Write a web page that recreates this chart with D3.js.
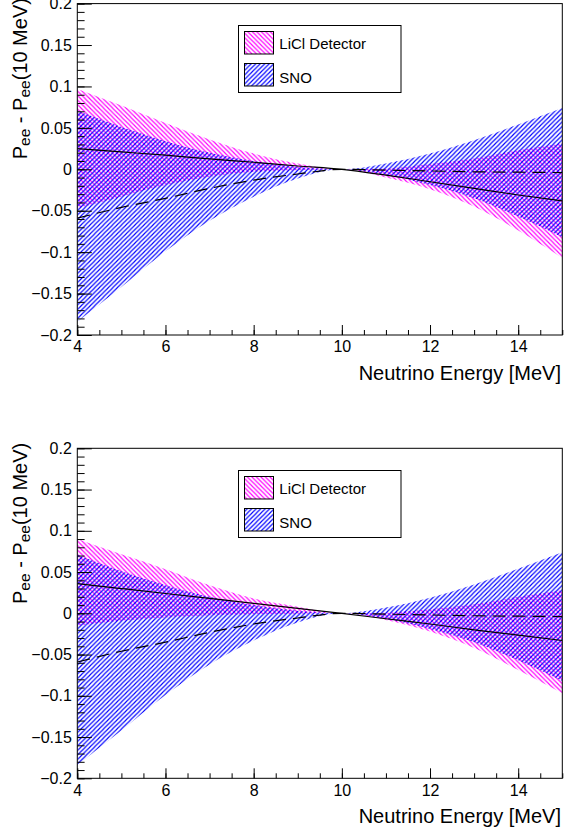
<!DOCTYPE html>
<html><head><meta charset="utf-8">
<script src="https://cdn.jsdelivr.net/npm/d3@7"></script>
<style>
body{margin:0;background:#fff}
text{font-family:"Liberation Sans",Arial,Helvetica,sans-serif;fill:#000}
</style>
</head><body>
<svg id="c" width="564" height="835" xmlns="http://www.w3.org/2000/svg"></svg>
<script>
// ---------------- data ----------------
const energy = [4, 5, 6, 7, 8, 9, 10, 11, 12, 13, 14, 15];

// SNO (same in both panels)
const snoCentral = [-0.059, -0.046, -0.035, -0.023, -0.013, -0.0057, 0, -0.001, -0.002, -0.003, -0.0035, -0.004];
const snoUpper   = [0.071, 0.051, 0.034, 0.020, 0.010, 0.003, 0, 0.007, 0.019, 0.035, 0.054, 0.074];
const snoLower   = [-0.184, -0.142, -0.099, -0.062, -0.033, -0.011, 0, -0.007, -0.019, -0.035, -0.057, -0.082];

// LiCl detector, top panel
const liclCentralTop = [0.025, 0.021, 0.017, 0.0125, 0.0085, 0.004, 0, -0.007, -0.015, -0.023, -0.031, -0.038];
const liclUpperTop   = [0.097, 0.077, 0.056, 0.036, 0.019, 0.007, 0, 0.001, 0.0064, 0.013, 0.023, 0.031];
const liclLowerTop   = [-0.047, -0.033, -0.019, -0.009, -0.003, -0.001, 0, -0.010, -0.024, -0.045, -0.074, -0.107];

// LiCl detector, bottom panel
const liclCentralBot = [0.036, 0.030, 0.024, 0.018, 0.012, 0.006, 0, -0.0066, -0.013, -0.020, -0.0265, -0.033];
const liclUpperBot   = [0.090, 0.0715, 0.0535, 0.034, 0.018, 0.008, 0, 0.0008, 0.0048, 0.011, 0.020, 0.028];
const liclLowerBot   = [-0.015, -0.009, -0.005, -0.0025, -0.001, -0.0004, 0, -0.008, -0.022, -0.042, -0.0687, -0.097];

const xTicks = [4, 6, 8, 10, 12, 14];
const xTickLabels = ["4", "6", "8", "10", "12", "14"];
const yTicks = [-0.2, -0.15, -0.1, -0.05, 0, 0.05, 0.1, 0.15, 0.2];
const yTickLabels = ["\u22120.2", "\u22120.15", "\u22120.1", "\u22120.05", "0", "0.05", "0.1", "0.15", "0.2"];
const legendLabels = ["LiCl Detector", "SNO"];
const xTitle = "Neutrino Energy [MeV]";

// ---------------- drawing ----------------
const svg = d3.select("#c");
svg.append("rect").attr("width", 564).attr("height", 835).attr("fill", "#fff");
const defs = svg.append("defs");

function hatch(id, color, dir) {
  const s = 4.5;
  const p = defs.append("pattern").attr("id", id)
    .attr("patternUnits", "userSpaceOnUse").attr("width", s).attr("height", s);
  p.append("path")
    .attr("d", dir === "/"
      ? `M-1,1 L1,-1 M0,${s} L${s},0 M${s-1},${s+1} L${s+1},${s-1}`
      : `M-1,${s-1} L1,${s+1} M0,0 L${s},${s} M${s-1},-1 L${s+1},1`)
    .attr("stroke", color).attr("stroke-width", 1.15).attr("fill", "none");
}
hatch("hLiCl", "#ff00ff", "\\");
hatch("hSNO", "#0000ff", "/");

const frameLeft = 77.3, frameRight = 562.3;

const panels = [
  { top: 3.6, bottom: 335, legendTop: 25,
    licl: [liclLowerTop, liclUpperTop, liclCentralTop] },
  { top: 448.3, bottom: 778.3, legendTop: 470,
    licl: [liclLowerBot, liclUpperBot, liclCentralBot] }
];

panels.forEach((P, pi) => {
  const x = d3.scaleLinear().domain([4, 15]).range([frameLeft, frameRight]);
  const y = d3.scaleLinear().domain([-0.2, 0.2]).range([P.bottom, P.top]);
  const g = svg.append("g");

  const clipId = "clip" + pi;
  defs.append("clipPath").attr("id", clipId).append("rect")
    .attr("x", frameLeft).attr("y", P.top).attr("width", frameRight - frameLeft).attr("height", P.bottom - P.top);

  const area = d3.area().x(d => x(d.e)).y0(d => y(d.lo)).y1(d => y(d.hi)).curve(d3.curveMonotoneX);
  const line = d3.line().x(d => x(d.e)).y(d => y(d.v)).curve(d3.curveMonotoneX);

  const liclBand = energy.map((e, i) => ({ e, lo: P.licl[0][i], hi: P.licl[1][i] }));
  const snoBand = energy.map((e, i) => ({ e, lo: snoLower[i], hi: snoUpper[i] }));
  const liclLine = energy.map((e, i) => ({ e, v: P.licl[2][i] }));
  const snoLine = energy.map((e, i) => ({ e, v: snoCentral[i] }));

  const plot = g.append("g").attr("clip-path", `url(#${clipId})`);
  plot.append("path").datum(liclBand).attr("d", area).attr("fill", "url(#hLiCl)");
  plot.append("path").datum(snoBand).attr("d", area).attr("fill", "url(#hSNO)");
  plot.append("path").datum(liclLine).attr("d", line).attr("fill", "none")
    .attr("stroke", "#000").attr("stroke-width", 1.2);
  plot.append("path").datum(snoLine).attr("d", line).attr("fill", "none")
    .attr("stroke", "#000").attr("stroke-width", 1.2).attr("stroke-dasharray", "13,7");

  // axes
  const yAxis = d3.axisLeft(y).tickValues(yTicks).tickSize(-14.5).tickSizeOuter(0).tickPadding(5.5)
    .tickFormat((d, i) => yTickLabels[i]);
  const yMinor = d3.axisLeft(y).tickValues(d3.range(-20, 21).map(k => k / 100)).tickSize(-7.3)
    .tickSizeOuter(0).tickFormat("");
  const xAxis = d3.axisBottom(x).tickValues(xTicks).tickSize(-10).tickSizeOuter(0).tickPadding(6)
    .tickFormat((d, i) => xTickLabels[i]);
  const xMinor = d3.axisBottom(x).tickValues(d3.range(8, 31).map(k => k / 2)).tickSize(-5)
    .tickSizeOuter(0).tickFormat("");

  const gy = g.append("g").attr("transform", `translate(${frameLeft},0)`).call(yAxis);
  const gym = g.append("g").attr("transform", `translate(${frameLeft},0)`).call(yMinor);
  const gx = g.append("g").attr("transform", `translate(0,${P.bottom})`).call(xAxis);
  const gxm = g.append("g").attr("transform", `translate(0,${P.bottom})`).call(xMinor);
  [gy, gym, gx, gxm].forEach(a => {
    a.select(".domain").remove();
    a.selectAll("line").attr("stroke", "#000").attr("stroke-width", 1);
    a.selectAll("text").attr("font-size", 16).attr("font-family", "Liberation Sans, Arial, sans-serif").attr("fill", "#000");
  });

  // frame
  g.append("rect").attr("x", frameLeft).attr("y", P.top)
    .attr("width", frameRight - frameLeft).attr("height", P.bottom - P.top)
    .attr("fill", "none").attr("stroke", "#000").attr("stroke-width", 1);

  // x title
  g.append("text").attr("x", 561).attr("y", P.bottom + 45).attr("text-anchor", "end")
    .attr("font-size", 20).text(xTitle);

  // y title
  const yt = g.append("text").attr("transform", `translate(26.5,${P.top - 5.5}) rotate(-90)`)
    .attr("text-anchor", "end").attr("font-size", 20);
  yt.append("tspan").text("P");
  yt.append("tspan").attr("font-size", 15.5).attr("dy", 3).text("ee");
  yt.append("tspan").attr("dy", -3).text(" - P");
  yt.append("tspan").attr("font-size", 15.5).attr("dy", 3).text("ee");
  yt.append("tspan").attr("dy", -3).text("(10 MeV)");

  // legend
  const L = P.legendTop;
  g.append("rect").attr("x", 238.5).attr("y", L + 0.5).attr("width", 162.5).attr("height", 67)
    .attr("fill", "#fff").attr("stroke", "#000").attr("stroke-width", 1);
  const fills = ["url(#hLiCl)", "url(#hSNO)"];
  const swY = [L + 6.5, L + 38.5];
  const txY = [L + 24, L + 57.5];
  legendLabels.forEach((lab, i) => {
    g.append("rect").attr("x", 244.5).attr("y", swY[i]).attr("width", 29).attr("height", 22.5)
      .attr("fill", "#fff");
    g.append("rect").attr("x", 244.5).attr("y", swY[i]).attr("width", 29).attr("height", 22.5)
      .attr("fill", fills[i]).attr("stroke", "#000").attr("stroke-width", 1);
    g.append("text").attr("x", 279.3).attr("y", txY[i]).attr("font-size", 15).text(lab);
  });
});
</script>
</body></html>
